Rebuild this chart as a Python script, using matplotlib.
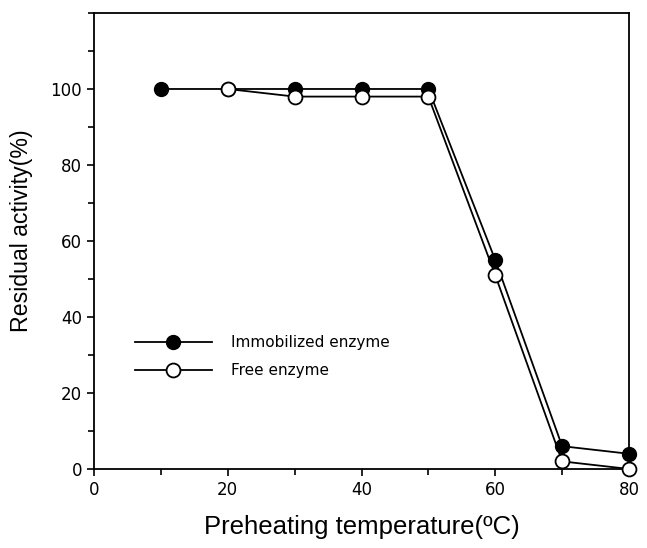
import matplotlib
matplotlib.use('Agg')
import matplotlib.pyplot as plt
from matplotlib.ticker import MultipleLocator

# preheating temperature (C) and residual activity (%)
temp_immobilized = [10, 20, 30, 40, 50, 60, 70, 80]
act_immobilized = [100, 100, 100, 100, 100, 55, 6, 4]

temp_free = [20, 30, 40, 50, 60, 70, 80]
act_free = [100, 98, 98, 98, 51, 2, 0]

fig = plt.figure(figsize=(6.47, 5.48), dpi=100)
ax = fig.add_axes([0.1453, 0.1442, 0.8269, 0.8321])

ax.plot(temp_immobilized, act_immobilized, '-o', color='black', lw=1.3,
        markersize=10, markerfacecolor='black', markeredgecolor='black',
        label='Immobilized enzyme', clip_on=False, zorder=3)
ax.plot(temp_free, act_free, '-o', color='black', lw=1.3,
        markersize=10, markerfacecolor='white', markeredgecolor='black',
        markeredgewidth=1.3, label='Free enzyme', clip_on=False, zorder=4)

ax.set_xlim(0, 80)
ax.set_ylim(0, 120)
ax.xaxis.set_major_locator(MultipleLocator(20))
ax.xaxis.set_minor_locator(MultipleLocator(10))
ax.set_yticks([0, 20, 40, 60, 80, 100])
ax.yaxis.set_minor_locator(MultipleLocator(10))
ax.tick_params(which='both', direction='out', width=1.2, labelsize=12)
ax.tick_params(which='major', length=5)
ax.tick_params(which='minor', length=4)
for s in ax.spines.values():
    s.set_linewidth(1.3)

ax.set_xlabel('Preheating temperature(ºC)', fontsize=18.5,
              family='Liberation Sans', labelpad=12)
ax.set_ylabel('Residual activity(%)', fontsize=16.7,
              family='Liberation Sans')
ax.yaxis.set_label_coords(-0.114, 0.522)

ax.legend(loc='upper left', bbox_to_anchor=(0.077, 0.294), frameon=False,
          fontsize=11, handlelength=5.0, handletextpad=1.3,
          labelspacing=0.85, borderpad=0, borderaxespad=0)

fig.savefig('out.png', dpi=100)
